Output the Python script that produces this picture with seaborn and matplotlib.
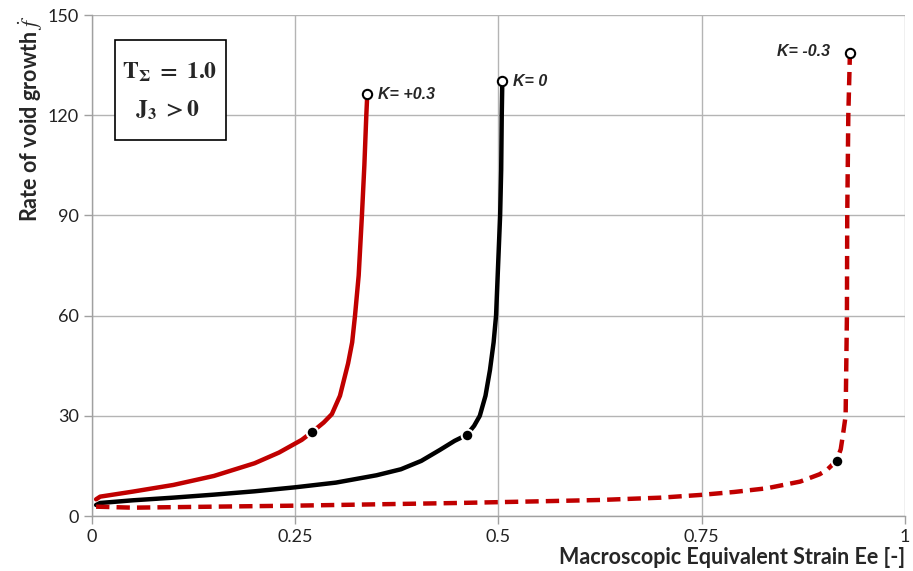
import pandas as pd
import matplotlib
matplotlib.use('Agg')
import matplotlib.pyplot as plt
from matplotlib.patches import Rectangle
import seaborn as sns

# K = +0.3 (solid red)
red_x = [0.005, 0.01, 0.05, 0.10, 0.15, 0.20, 0.23, 0.258, 0.271, 0.285, 0.295,
         0.305, 0.315, 0.320, 0.3235, 0.328, 0.332, 0.335, 0.3374, 0.3386]
red_y = [5.0, 5.8, 7.3, 9.3, 12.0, 15.8, 19.0, 22.8, 25.2, 28.0, 30.5,
         36, 45.7, 52, 60, 72, 90, 105, 120, 126.3]
red_dot = (0.271, 25.2)

# K = 0 (solid black)
black_x = [0.005, 0.01, 0.05, 0.10, 0.15, 0.20, 0.25, 0.30, 0.35, 0.38, 0.405,
           0.428, 0.446, 0.461, 0.470, 0.477, 0.484, 0.4895, 0.494, 0.497,
           0.4995, 0.502, 0.5033, 0.504, 0.5047]
black_y = [3.3, 3.9, 4.7, 5.5, 6.4, 7.4, 8.6, 10.0, 12.2, 14.0, 16.5,
           19.8, 22.5, 24.3, 27, 30, 36, 43.7, 52, 60,
           75, 90, 103.6, 120, 130.2]
black_dot = (0.461, 24.3)

# K = -0.3 (dashed red)
dash_x = [0.005, 0.05, 0.15, 0.25, 0.35, 0.45, 0.55, 0.625, 0.70, 0.748, 0.79,
          0.83, 0.871, 0.895, 0.904, 0.916, 0.921, 0.924, 0.927, 0.9286,
          0.929, 0.9303, 0.9323]
dash_y = [2.8, 2.5, 2.8, 3.1, 3.5, 3.9, 4.4, 4.8, 5.5, 6.3, 7.2,
          8.3, 10.3, 12.5, 13.8, 16.6, 20, 24.8, 30, 60,
          90, 120, 138.5]
dash_dot = (0.916, 16.6)

labels = ['K= +0.3', 'K= 0', 'K= -0.3']
x_ticks = [0, 0.25, 0.5, 0.75, 1]
x_tick_labels = ['0', '0.25', '0.5', '0.75', '1']
y_ticks = [0, 30, 60, 90, 120, 150]

sns.set_style('whitegrid')
plt.rcParams['font.family'] = ['Lato', 'DejaVu Sans']
plt.rcParams['mathtext.fontset'] = 'stix'

fig = plt.figure(figsize=(9.13, 5.71), dpi=100)
ax = fig.add_axes([0.1008, 0.0963, 0.8904, 0.8774])

red = '#c00000'
df_red = pd.DataFrame({'x': red_x, 'y': red_y})
df_black = pd.DataFrame({'x': black_x, 'y': black_y})
df_dash = pd.DataFrame({'x': dash_x, 'y': dash_y})

sns.lineplot(data=df_red, x='x', y='y', sort=False, color=red, lw=3.2, ax=ax)
sns.lineplot(data=df_black, x='x', y='y', sort=False, color='black', lw=3.2, ax=ax)
sns.lineplot(data=df_dash, x='x', y='y', sort=False, color=red, lw=3.2, ax=ax,
             linestyle=(0, (3, 1.6)))
for ln in ax.get_lines():
    ln.set_solid_joinstyle('round')
    ln.set_dash_joinstyle('round')

# inflection markers
for px, py in [red_dot, black_dot, dash_dot]:
    ax.scatter([px], [py], s=70, color='black', edgecolor='white', linewidth=1.5, zorder=5)

# end markers (open circles)
ends = [(red_x[-1], red_y[-1]), (black_x[-1], black_y[-1]), (dash_x[-1], dash_y[-1])]
for ex, ey in ends:
    ax.scatter([ex], [ey], s=45, facecolor='white', edgecolor='black', linewidth=1.5, zorder=6)

kw = dict(fontsize=11.5, fontweight='bold', style='italic',
          family=['Liberation Sans'], va='center')
ax.text(red_x[-1] + 0.013, red_y[-1], labels[0], ha='left', **kw)
ax.text(black_x[-1] + 0.013, black_y[-1], labels[1], ha='left', **kw)
ax.text(dash_x[-1] - 0.025, dash_y[-1] + 0.5, labels[2], ha='right', **kw)

# parameter box
ax.add_patch(Rectangle((0.0283, 0.7505), 0.1365, 0.1996, transform=ax.transAxes,
                       facecolor='white', edgecolor='black', lw=1.2, zorder=4))
ax.text(0.096, 0.885, r'$\mathbf{T_{\Sigma}\ =\ 1.0}$', transform=ax.transAxes,
        fontsize=17, ha='center', va='center', zorder=5)
ax.text(0.093, 0.81, r'$\mathbf{J_3\ >0}$', transform=ax.transAxes,
        fontsize=17, ha='center', va='center', zorder=5)

ax.set_xlim(0, 1)
ax.set_ylim(0, 150)
ax.set_xticks(x_ticks)
ax.set_xticklabels(x_tick_labels)
ax.set_yticks(y_ticks)
ax.tick_params(axis='both', labelsize=13, colors='#222222', length=6,
               direction='out', width=1, color='#a0a0a0', bottom=True, left=True)
ax.grid(color='#b4b4b4', lw=1)
for s in ['top', 'right']:
    ax.spines[s].set_visible(False)
for s in ['left', 'bottom']:
    ax.spines[s].set_color('#a0a0a0')
    ax.spines[s].set_linewidth(1)

ax.set_xlabel('Macroscopic Equivalent Strain Ee [-]', fontsize=15.5, fontweight='bold')
ax.xaxis.set_label_coords(1.0, -0.062)
ax.xaxis.label.set_horizontalalignment('right')
ax.set_ylabel(r'Rate of void growth $\dot{f}$', fontsize=15.5, fontweight='bold')
ax.yaxis.set_label_coords(-0.058, 1.0)
ax.yaxis.label.set_verticalalignment('bottom')
ax.yaxis.label.set_horizontalalignment('right')

fig.savefig('out.png', dpi=100)
